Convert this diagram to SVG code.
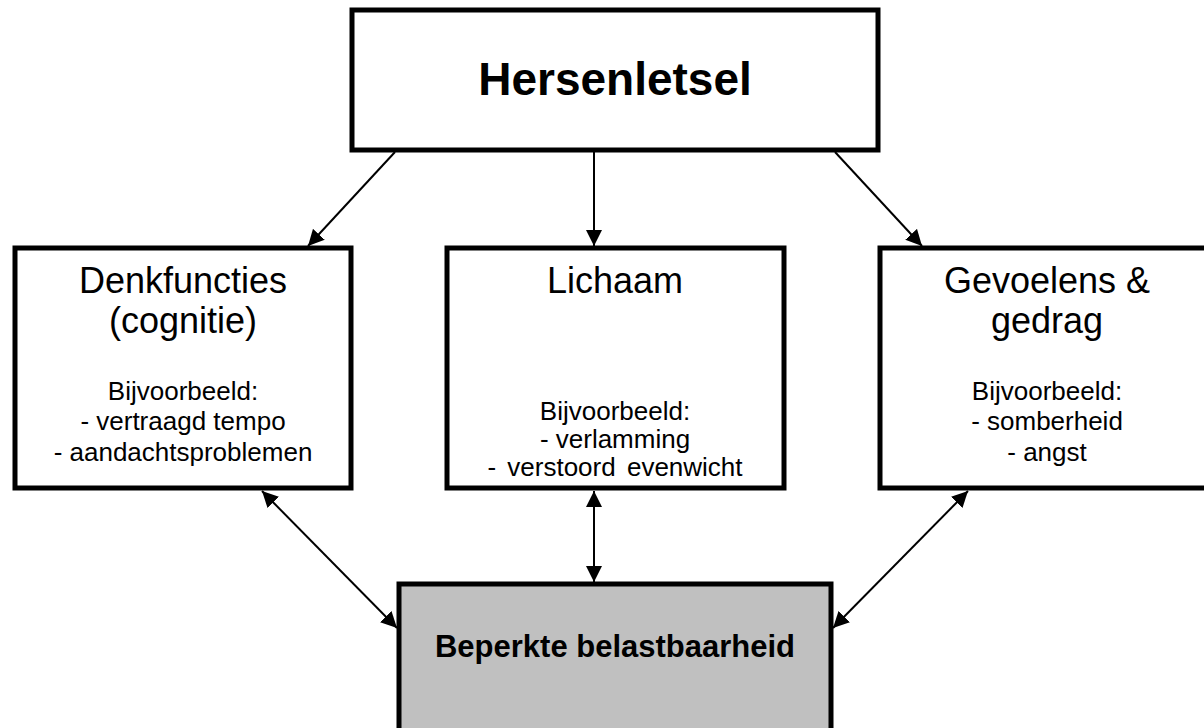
<svg xmlns="http://www.w3.org/2000/svg" width="1204" height="728" viewBox="0 0 1204 728">
  <style>
    .box { fill: #ffffff; stroke: #000000; stroke-width: 5; }
    .grey { fill: #c0c0c0; stroke: #000000; stroke-width: 5; }
    .title { font-family: "Liberation Sans", Arial, sans-serif; font-size: 36px; fill: #000; text-anchor: middle; }
    .small { font-family: "Liberation Sans", Arial, sans-serif; font-size: 26px; fill: #000; text-anchor: middle; }
    .bold { font-family: "Liberation Sans", Arial, sans-serif; font-weight: bold; fill: #000; text-anchor: middle; }
    .conn { stroke: #000; stroke-width: 2; fill: none; }
  </style>
  <defs>
    <marker id="ah" viewBox="0 0 16 16" refX="16" refY="8" markerWidth="16" markerHeight="16" markerUnits="userSpaceOnUse" orient="auto-start-reverse">
      <path d="M0,0 L16,8 L0,16 z" fill="#000"/>
    </marker>
  </defs>
  <rect width="1204" height="728" fill="#ffffff"/>

  <g id="connectors">
    <line class="conn" x1="395" y1="152" x2="308" y2="246" marker-end="url(#ah)"/>
    <line class="conn" x1="594" y1="152" x2="594" y2="246" marker-end="url(#ah)"/>
    <line class="conn" x1="835" y1="152" x2="922" y2="246" marker-end="url(#ah)"/>
    <line class="conn" x1="262" y1="491" x2="397" y2="628" marker-start="url(#ah)" marker-end="url(#ah)"/>
    <line class="conn" x1="594" y1="491" x2="594" y2="582" marker-start="url(#ah)" marker-end="url(#ah)"/>
    <line class="conn" x1="968" y1="491" x2="833" y2="628" marker-start="url(#ah)" marker-end="url(#ah)"/>
  </g>

  <g id="hersenletsel">
    <rect class="box" x="352" y="10" width="526" height="140"/>
    <text class="bold" x="615" y="95" font-size="46">Hersenletsel</text>
  </g>

  <g id="denkfuncties">
    <rect class="box" x="15" y="248" width="336" height="240"/>
    <text class="title" x="183" y="293">Denkfuncties</text>
    <text class="title" x="183" y="333">(cognitie)</text>
    <text class="small" x="183" y="400">Bijvoorbeeld:</text>
    <text class="small" x="183" y="430">- vertraagd tempo</text>
    <text class="small" x="183" y="461">- aandachtsproblemen</text>
  </g>

  <g id="lichaam">
    <rect class="box" x="447" y="248" width="337" height="240"/>
    <text class="title" x="615" y="293">Lichaam</text>
    <text class="small" x="615" y="420" font-size="25">Bijvoorbeeld:</text>
    <text class="small" x="615" y="448" font-size="25">- verlamming</text>
    <text class="small" x="615" y="476" font-size="25" word-spacing="4">- verstoord evenwicht</text>
  </g>

  <g id="gevoelens">
    <rect class="box" x="880" y="248" width="340" height="240"/>
    <text class="title" x="1047" y="293">Gevoelens &amp;</text>
    <text class="title" x="1047" y="333">gedrag</text>
    <text class="small" x="1047" y="400">Bijvoorbeeld:</text>
    <text class="small" x="1047" y="430">- somberheid</text>
    <text class="small" x="1047" y="461">- angst</text>
  </g>

  <g id="belastbaarheid">
    <rect class="grey" x="399" y="584" width="432" height="160"/>
    <text class="bold" x="615" y="657" font-size="31">Beperkte belastbaarheid</text>
  </g>
</svg>
